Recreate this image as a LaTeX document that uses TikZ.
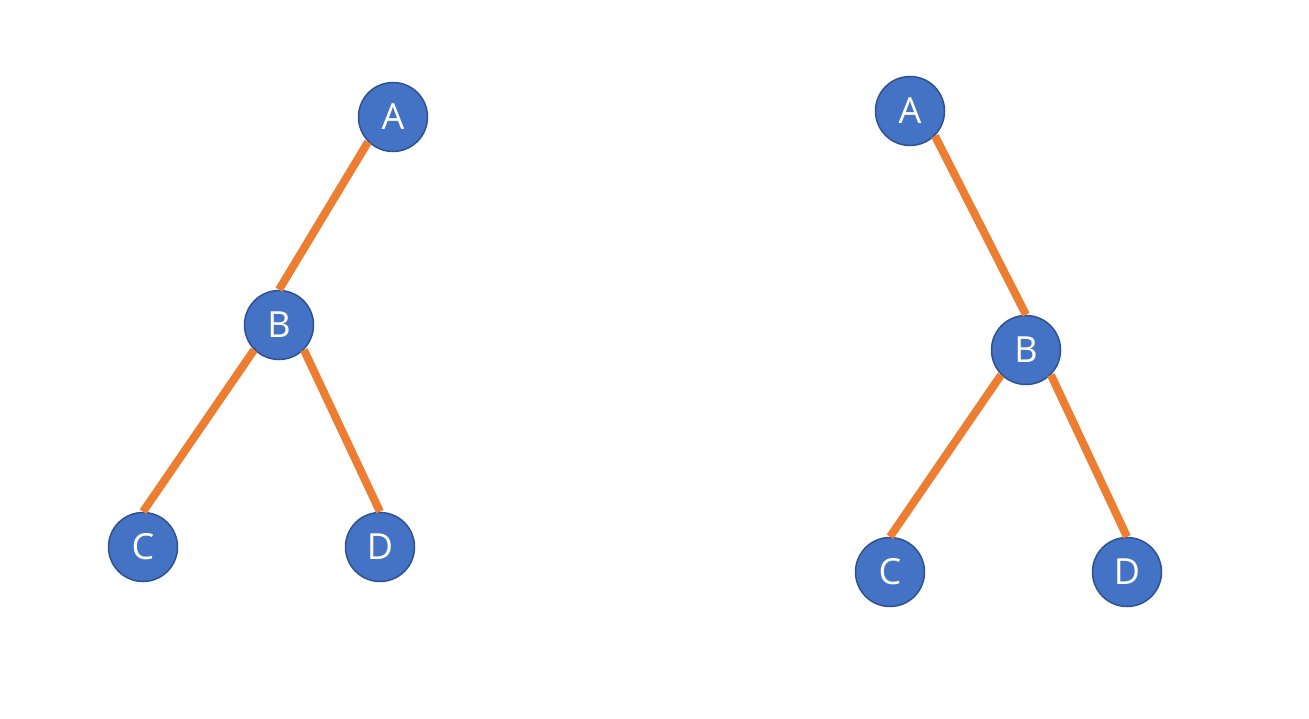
\documentclass[tikz,border=0pt]{standalone}
\usepackage{fontspec}
\setmainfont{Open Sans}
\definecolor{nodefill}{HTML}{4472C4}
\definecolor{nodeedge}{HTML}{2F528F}
\definecolor{edgeorange}{HTML}{ED7D31}
\begin{document}
\begin{tikzpicture}[x=1pt,y=-1pt,
  treenode/.style={circle,fill=nodefill,draw=nodeedge,line width=1.5pt,minimum size=69pt,inner sep=0pt,text=white,font=\fontsize{36}{42}\selectfont},
  treeedge/.style={draw=edgeorange,line width=8pt}]
\useasboundingbox (0,0) rectangle (1309,719);
% left tree
\node[treenode] (la) at (393,117) {A};
\node[treenode] (lb) at (279,325) {B};
\node[treenode] (lc) at (143,547) {C};
\node[treenode] (ld) at (380,547) {D};
% right tree
\node[treenode] (ra) at (910,111) {A};
\node[treenode] (rb) at (1026,350) {B};
\node[treenode] (rc) at (890,572) {C};
\node[treenode] (rd) at (1127,572) {D};
\path[treeedge] (la.south west) -- (lb.north);
\path[treeedge] (lb.south west) -- (lc.north);
\path[treeedge] (lb.south east) -- (ld.north);
\path[treeedge] (ra.south east) -- (rb.north);
\path[treeedge] (rb.south west) -- (rc.north);
\path[treeedge] (rb.south east) -- (rd.north);
\end{tikzpicture}
\end{document}
